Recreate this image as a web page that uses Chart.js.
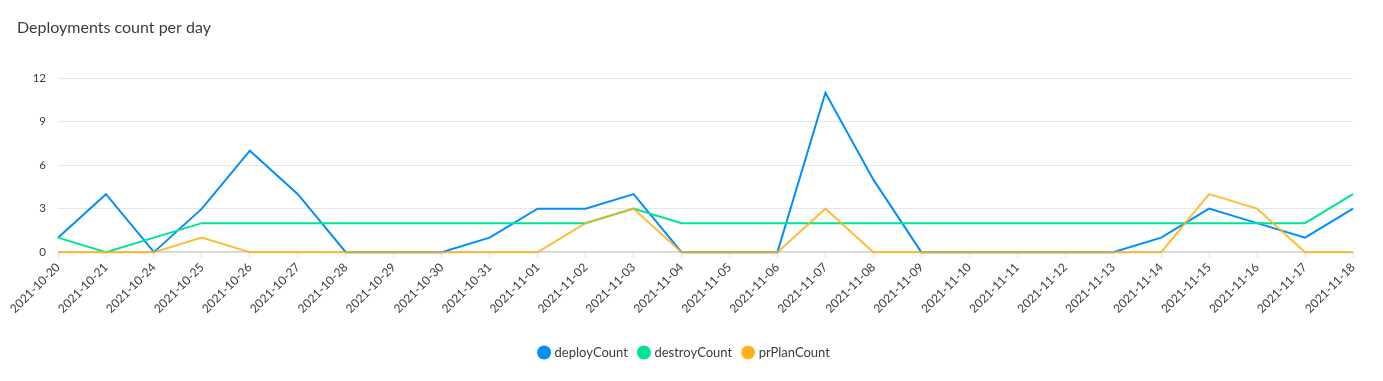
<!DOCTYPE html>
<html>
<head>
<meta charset="utf-8">
<script src="https://cdn.jsdelivr.net/npm/chart.js@4/dist/chart.umd.min.js"></script>
<style>
  html, body { margin: 0; padding: 0; background: #fff; }
  #wrap { width: 1383px; height: 381px; }
</style>
</head>
<body>
<div id="wrap"><canvas id="chart"></canvas></div>
<script>
const days = [
  "2021-10-20", "2021-10-21", "2021-10-24", "2021-10-25", "2021-10-26", "2021-10-27", "2021-10-28",
  "2021-10-29", "2021-10-30", "2021-10-31", "2021-11-01", "2021-11-02", "2021-11-03", "2021-11-04",
  "2021-11-05", "2021-11-06", "2021-11-07", "2021-11-08", "2021-11-09", "2021-11-10", "2021-11-11",
  "2021-11-12", "2021-11-13", "2021-11-14", "2021-11-15", "2021-11-16", "2021-11-17", "2021-11-18"
]
const deployCount  = [1, 4, 0, 3, 7, 4, 0, 0, 0, 1, 3, 3, 4, 0, 0, 0, 11, 5, 0, 0, 0, 0, 0, 1, 3, 2, 1, 3]
const destroyCount = [1, 0, 1, 2, 2, 2, 2, 2, 2, 2, 2, 2, 3, 2, 2, 2, 2, 2, 2, 2, 2, 2, 2, 2, 2, 2, 2, 4]
const prPlanCount  = [0, 0, 0, 1, 0, 0, 0, 0, 0, 0, 0, 2, 3, 0, 0, 0, 3, 0, 0, 0, 0, 0, 0, 0, 4, 3, 0, 0]
const yTicks = [0, 3, 6, 9, 12]

const textColor = "#373d3f"
const font = "Lato, 'Open Sans', sans-serif"

const series = [
  { label: "deployCount", data: deployCount, color: "#008FFB", order: 3 },
  { label: "destroyCount", data: destroyCount, color: "#00E396", order: 2 },
  { label: "prPlanCount", data: prPlanCount, color: "rgba(254, 176, 25, 0.85)", order: 1 }
]

new Chart(document.getElementById("chart"), {
  type: "line",
  data: {
    labels: days,
    datasets: series.map(s => ({
      label: s.label,
      data: s.data,
      order: s.order,
      borderColor: s.color,
      backgroundColor: s.color.replace("0.85", "1"),
      borderWidth: 2,
      pointRadius: 0,
      tension: 0,
      fill: false,
      clip: false
    }))
  },
  options: {
    responsive: true,
    maintainAspectRatio: false,
    animation: false,
    layout: { padding: { left: 17, right: 30, top: 0, bottom: 12 } },
    plugins: {
      title: {
        display: true,
        text: "Deployments count per day",
        align: "start",
        color: textColor,
        font: { family: font, size: 16, weight: "normal" },
        padding: { top: 18, bottom: 41 }
      },
      legend: {
        position: "bottom",
        labels: {
          usePointStyle: true,
          pointStyle: "circle",
          boxWidth: 8,
          boxHeight: 8.5,
          padding: 12,
          color: textColor,
          font: { family: font, size: 13 },
          sort: (a, b) => a.datasetIndex - b.datasetIndex
        }
      },
      tooltip: { enabled: false }
    },
    scales: {
      x: {
        grid: { drawOnChartArea: false, drawTicks: true, tickLength: 6, color: "#e0e0e0" },
        border: { color: "#e0e0e0" },
        ticks: {
          color: textColor,
          font: { family: font, size: 12 },
          maxRotation: 45,
          minRotation: 45,
          autoSkip: false,
          padding: 2
        },
        afterFit: s => { s.paddingLeft = 0; s.paddingRight = 0; s.height += 16 }
      },
      y: {
        min: 0,
        max: 12,
        afterBuildTicks: s => { s.ticks = yTicks.map(v => ({ value: v })) },
        grid: {
          drawTicks: false,
          color: c => c.tick && c.tick.value === 0 ? "#d6d6d6" : "#e6e6e6",
          lineWidth: c => c.tick && c.tick.value === 0 ? 2 : 1
        },
        border: { display: false },
        ticks: {
          color: textColor,
          font: { family: font, size: 11.5 },
          padding: 12
        },
        afterFit: s => { s.width = 41 }
      }
    }
  }
})
</script>
</body>
</html>
